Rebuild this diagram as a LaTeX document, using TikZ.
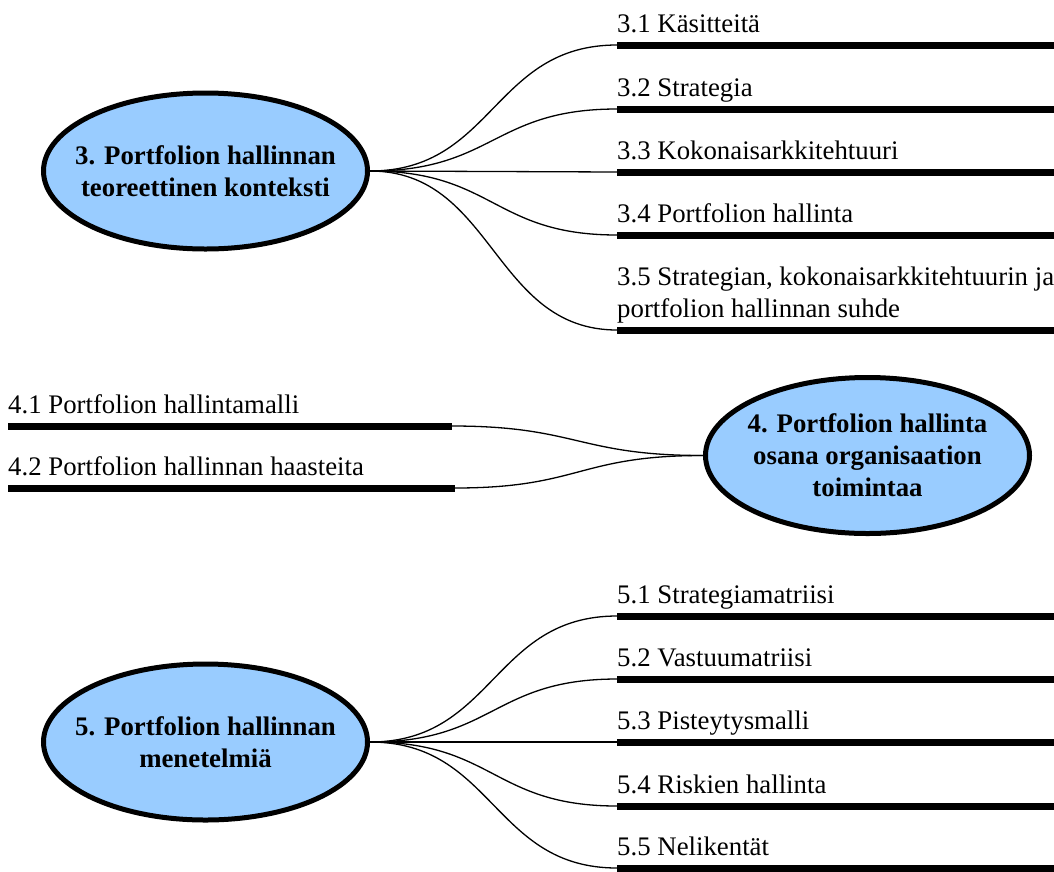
\documentclass[tikz,border=0pt]{standalone}
\usepackage{fontspec}
\setmainfont{Liberation Serif}
\usetikzlibrary{shapes.geometric}
\definecolor{topicblue}{RGB}{153,204,255}
\begin{document}
\begin{tikzpicture}[x=1pt,y=-1pt,
  topic/.style={ellipse, draw=black, line width=5pt, fill=topicblue,
    minimum width=324pt, minimum height=156pt, inner sep=0pt},
  topictext/.style={inner sep=0pt, align=center,
    font=\fontsize{26.8}{32}\selectfont\bfseries},
  subtext/.style={anchor=base west, inner sep=0pt, align=left,
    font=\fontsize{26.8}{32}\selectfont},
  bar/.style={line width=7pt},
  link/.style={line width=1.3pt},
]
\useasboundingbox (0,0) rectangle (1054,871);

% main topics: ellipse outlines with their titles on top
\node[topic] (e3) at (205.5,171) {};
\node[topic] (e4) at (867.5,455.5) {};
\node[topic] (e5) at (205.5,742) {};
\node[topictext] (e3t) at (e3) {3. Portfolion hallinnan\\teoreettinen konteksti};
\node[topictext] (e4t) at (e4) {4. Portfolion hallinta\\osana organisaation\\toimintaa};
\node[topictext] (e5t) at (e5) {5. Portfolion hallinnan\\menetelmiä};

% section 3 subtopics
\coordinate (b31) at (617,45);
\coordinate (b32) at (617,109);
\coordinate (b33) at (617,172);
\coordinate (b34) at (617,235);
\coordinate (b35) at (617,330);
\coordinate (r31) at (1054,45);
\coordinate (r32) at (1054,109);
\coordinate (r33) at (1054,172);
\coordinate (r34) at (1054,235);
\coordinate (r35) at (1054,330);
\foreach \i in {31,32,33,34,35} {
  \draw[bar] (b\i) -- (r\i);
  \draw[link] (e3.east) .. controls +(124,0) and +(-124,0) .. (b\i);
}
\node[subtext] (t31) at (617,32.5) {3.1 Käsitteitä};
\node[subtext] (t32) at (617,96.5) {3.2 Strategia};
\node[subtext] (t33) at (617,159.5) {3.3 Kokonaisarkkitehtuuri};
\node[subtext] (t34) at (617,222.5) {3.4 Portfolion hallinta};
\node[subtext] (t35) at (617,317.5) {3.5 Strategian, kokonaisarkkitehtuurin ja\\portfolion hallinnan suhde};

% section 4 subtopics
\coordinate (l41) at (8,426);
\coordinate (l42) at (8,488);
\coordinate (b41) at (452,426);
\coordinate (b42) at (455,488);
\draw[bar] (l41) -- (b41);
\draw[bar] (l42) -- (b42);
\draw[link] (e4.west) .. controls +(-125,0) and +(125,0) .. (b41);
\draw[link] (e4.west) .. controls +(-125,0) and +(125,0) .. (b42);
\node[subtext] (t41) at (8,413.5) {4.1 Portfolion hallintamalli};
\node[subtext] (t42) at (8,475.5) {4.2 Portfolion hallinnan haasteita};

% section 5 subtopics
\coordinate (b51) at (617,616);
\coordinate (b52) at (617,679);
\coordinate (b53) at (617,742);
\coordinate (b54) at (617,806);
\coordinate (b55) at (617,868);
\coordinate (r51) at (1054,616);
\coordinate (r52) at (1054,679);
\coordinate (r53) at (1054,742);
\coordinate (r54) at (1054,806);
\coordinate (r55) at (1054,868);
\foreach \i in {51,52,53,54,55} {
  \draw[bar] (b\i) -- (r\i);
  \draw[link] (e5.east) .. controls +(124,0) and +(-124,0) .. (b\i);
}
\node[subtext] (t51) at (617,603.5) {5.1 Strategiamatriisi};
\node[subtext] (t52) at (617,666.5) {5.2 Vastuumatriisi};
\node[subtext] (t53) at (617,729.5) {5.3 Pisteytysmalli};
\node[subtext] (t54) at (617,793.5) {5.4 Riskien hallinta};
\node[subtext] (t55) at (617,855.5) {5.5 Nelikentät};
\end{tikzpicture}
\end{document}
